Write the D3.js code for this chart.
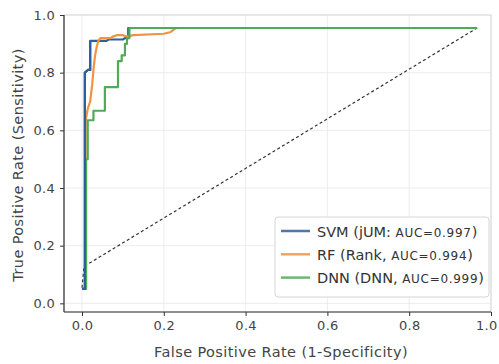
<!DOCTYPE html>
<html>
<head>
<meta charset="utf-8">
<script src="https://cdn.jsdelivr.net/npm/d3@7"></script>
<style>
  body { margin: 0; background: #fff; }
  text { font-family: "DejaVu Sans", sans-serif; }
</style>
</head>
<body>
<svg id="chart" width="499" height="364"></svg>
<script>
// ROC curves: [fpr, tpr]
var svmPoints = [[0.0,0.05],[0.007,0.05],[0.007,0.80],[0.015,0.81],[0.02,0.81],[0.02,0.91],[0.06,0.91],[0.065,0.915],[0.1,0.915],[0.105,0.92],[0.113,0.92],[0.113,0.955],[0.966,0.955]];
var rfPoints = [[0.0,0.05],[0.009,0.05],[0.009,0.63],[0.012,0.66],[0.015,0.68],[0.02,0.70],[0.025,0.76],[0.028,0.81],[0.032,0.86],[0.036,0.89],[0.04,0.91],[0.045,0.92],[0.07,0.92],[0.075,0.925],[0.085,0.93],[0.1,0.93],[0.11,0.925],[0.125,0.93],[0.2,0.935],[0.215,0.94],[0.23,0.955],[0.966,0.955]];
var dnnPoints = [[0.0,0.05],[0.01,0.05],[0.01,0.50],[0.014,0.50],[0.014,0.635],[0.028,0.635],[0.028,0.668],[0.056,0.668],[0.056,0.75],[0.088,0.75],[0.088,0.84],[0.097,0.84],[0.097,0.86],[0.105,0.86],[0.105,0.90],[0.11,0.90],[0.11,0.92],[0.116,0.92],[0.116,0.955],[0.966,0.955]];
var chancePoints = [[0.0,0.054],[0.005,0.128],[0.966,0.955]];

var seriesNames = ["SVM (jUM: ", "RF (Rank, ", "DNN (DNN, "];
var aucLabels = ["AUC=0.997", "AUC=0.994", "AUC=0.999"];
var seriesColors = ["#2f5f9c", "#ef9440", "#4fab57"];
var tickValues = [0.0, 0.2, 0.4, 0.6, 0.8, 1.0];

var svg = d3.select("#chart");
var margin = { left: 64, top: 15, right: 8, bottom: 52 };
var W = 499, H = 364;

var x = d3.scaleLinear().domain([-0.044, 1.0]).range([margin.left, W - margin.right]);
var y = d3.scaleLinear().domain([-0.03, 1.0]).range([H - margin.bottom, margin.top]);

// grid
svg.append("g")
  .selectAll("line")
  .data(tickValues)
  .enter()
  .append("line")
  .attr("x1", d => x(d)).attr("x2", d => x(d))
  .attr("y1", y.range()[1]).attr("y2", y.range()[0])
  .attr("stroke", "#e8e8e8").attr("stroke-width", 0.8);
svg.append("g")
  .selectAll("line")
  .data(tickValues)
  .enter()
  .append("line")
  .attr("y1", d => y(d)).attr("y2", d => y(d))
  .attr("x1", x.range()[0]).attr("x2", x.range()[1])
  .attr("stroke", "#e8e8e8").attr("stroke-width", 0.8);

// light frame top/right
svg.append("rect")
  .attr("x", x.range()[0]).attr("y", y.range()[1])
  .attr("width", x.range()[1] - x.range()[0])
  .attr("height", y.range()[0] - y.range()[1])
  .attr("fill", "none").attr("stroke", "#d8d8d8").attr("stroke-width", 1);

var line = d3.line().x(d => x(d[0])).y(d => y(d[1]));

svg.append("path")
  .attr("d", line(chancePoints))
  .attr("fill", "none").attr("stroke", "#333")
  .attr("stroke-width", 1.2).attr("stroke-dasharray", "3,2.5");

[svmPoints, rfPoints, dnnPoints].forEach((pts, i) => {
  svg.append("path")
    .attr("d", line(pts))
    .attr("fill", "none")
    .attr("stroke", seriesColors[i])
    .attr("stroke-width", 2.2)
    .attr("stroke-linejoin", "round");
});
// svm edge sits on top of the others near the left
svg.append("path")
  .attr("d", line(svmPoints.slice(0, 6)))
  .attr("fill", "none").attr("stroke", seriesColors[0]).attr("stroke-width", 2.2);

// axes
var xAxis = svg.append("g")
  .attr("transform", "translate(0," + y.range()[0] + ")")
  .call(d3.axisBottom(x).tickValues(tickValues).tickFormat(d3.format(".1f")).tickSize(4).tickPadding(5));
var yAxis = svg.append("g")
  .attr("transform", "translate(" + x.range()[0] + ",0)")
  .call(d3.axisLeft(y).tickValues(tickValues).tickFormat(d3.format(".1f")).tickSize(4).tickPadding(5));
[xAxis, yAxis].forEach(a => {
  a.select(".domain").attr("stroke", "#333").attr("stroke-width", 1.2);
  a.selectAll(".tick line").attr("stroke", "#333");
  a.selectAll(".tick text").attr("fill", "#444").style("font-size", "13px").style("letter-spacing", "0.3px");
});
xAxis.select(".domain").attr("d", "M" + x.range()[0] + ",0H" + x.range()[1]);
yAxis.select(".domain").attr("d", "M0," + y.range()[0] + "V" + y.range()[1]);
// keep the last x label inside the page
xAxis.selectAll(".tick text").filter(d => d == 1.0).attr("text-anchor", "end").attr("dx", "6px");

svg.append("text")
  .attr("x", 281).attr("y", 357)
  .attr("text-anchor", "middle")
  .style("font-size", "14.5px").style("letter-spacing", "0.4px").attr("fill", "#444")
  .text("False Positive Rate (1-Specificity)");
svg.append("text")
  .attr("transform", "translate(23," + 165 + ") rotate(-90)")
  .attr("text-anchor", "middle")
  .style("font-size", "14.5px").style("letter-spacing", "0.4px").attr("fill", "#444")
  .text("True Positive Rate (Sensitivity)");

// legend
var lg = svg.append("g").attr("transform", "translate(275,217)");
lg.append("rect")
  .attr("width", 214).attr("height", 80).attr("rx", 3)
  .attr("fill", "#fff").attr("fill-opacity", 0.9)
  .attr("stroke", "#d6d6d6");
seriesNames.forEach((name, i) => {
  var row = lg.append("g").attr("transform", "translate(0," + (14 + i * 23.3) + ")");
  row.append("line")
    .attr("x1", 6).attr("x2", 35)
    .attr("stroke", seriesColors[i]).attr("stroke-width", 2.5).attr("stroke-opacity", 0.85);
  var t = row.append("text")
    .attr("x", 42).attr("y", 5.5)
    .style("font-size", "14.5px").attr("fill", "#333");
  t.append("tspan").text(name);
  t.append("tspan").style("font-size", "12px").style("letter-spacing", "0.7px").text(aucLabels[i]);
  t.append("tspan").text(")");
});
</script>
</body>
</html>
